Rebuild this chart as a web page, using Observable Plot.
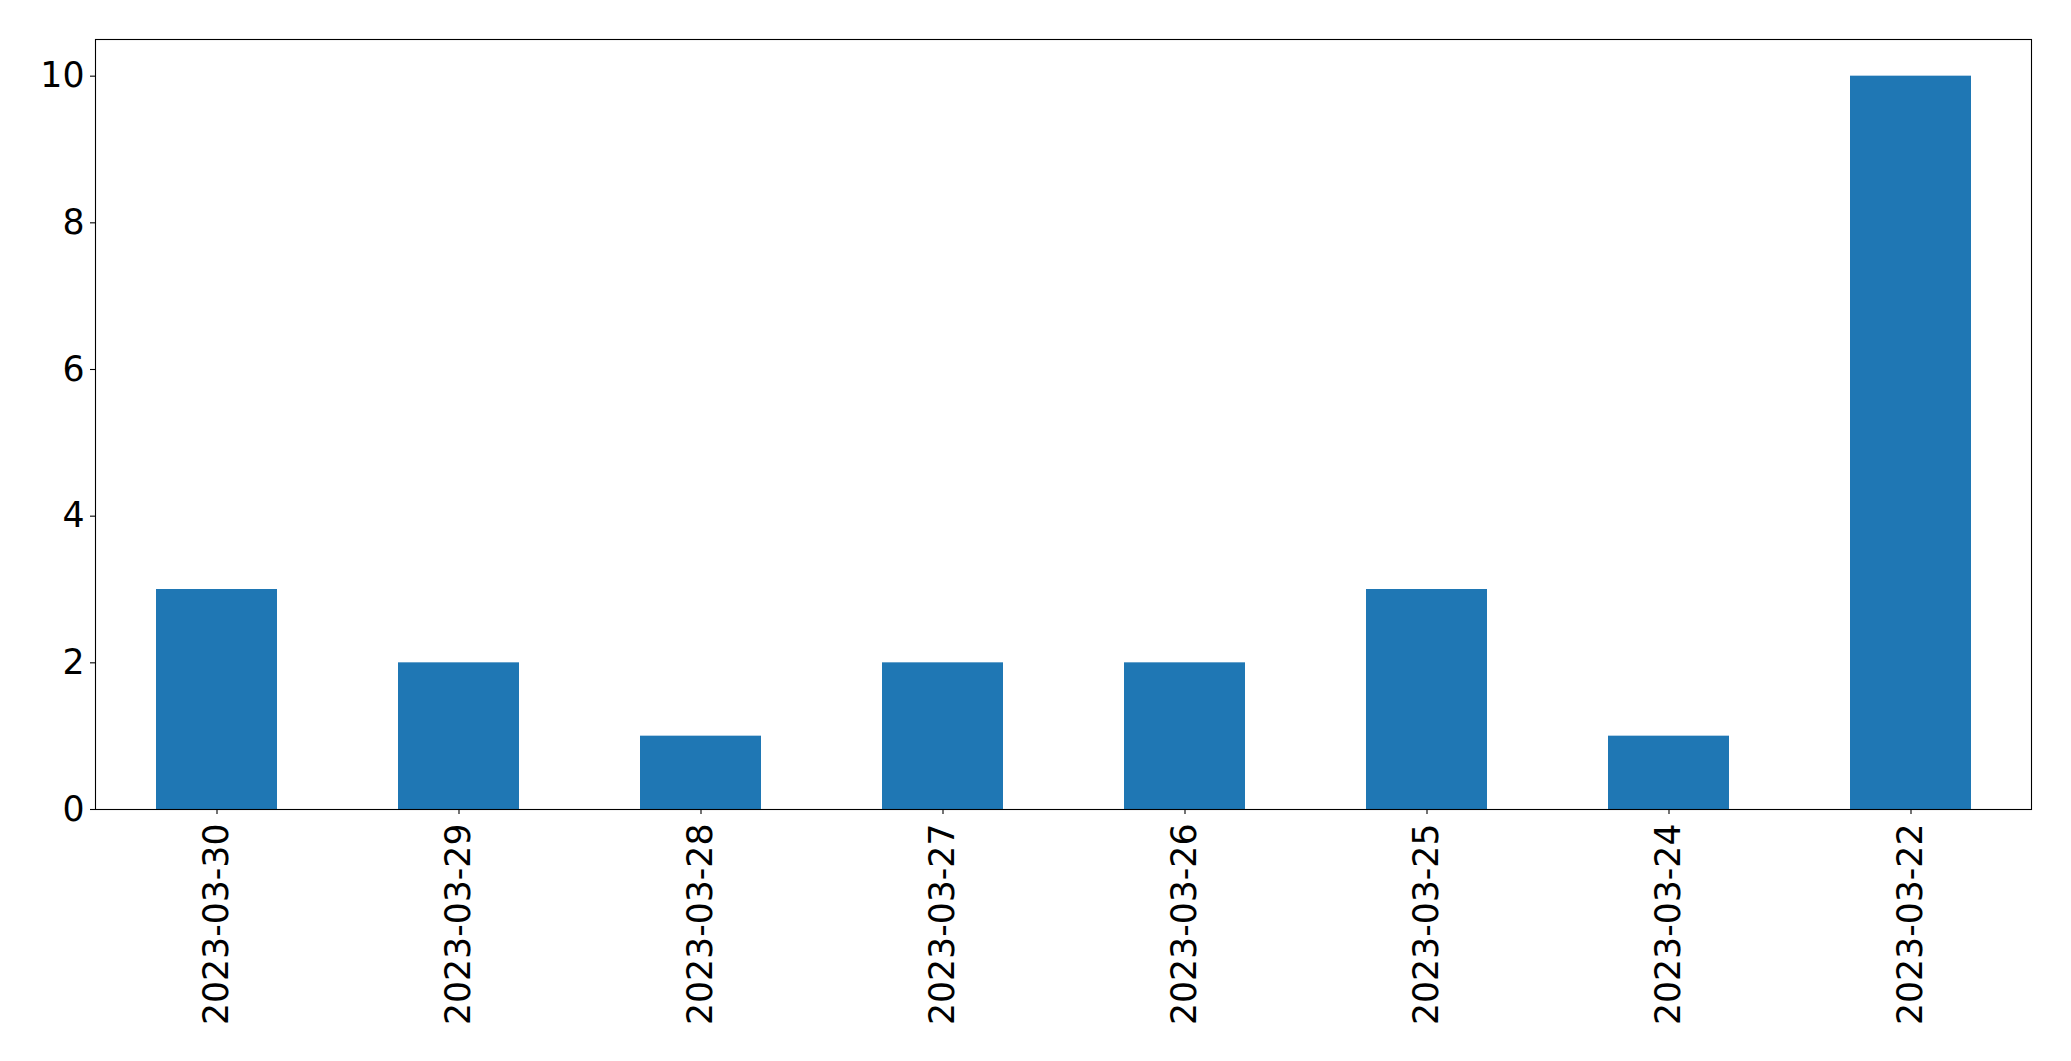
<!DOCTYPE html>
<html>
<head>
<meta charset="utf-8">
<script src="https://cdn.jsdelivr.net/npm/d3@7"></script>
<script src="https://cdn.jsdelivr.net/npm/@observablehq/plot@0.6"></script>
<style>
  html, body { margin: 0; padding: 0; background: #fff; }
</style>
</head>
<body>
<div id="chart"></div>
<script>
const dates = ["2023-03-30", "2023-03-29", "2023-03-28", "2023-03-27", "2023-03-26", "2023-03-25", "2023-03-24", "2023-03-22"];
const counts = [3, 2, 1, 2, 2, 3, 1, 10];
const yTicks = [0, 2, 4, 6, 8, 10];

const data = dates.map((d, i) => ({date: d, count: counts[i]}));

const chart = Plot.plot({
  width: 2071,
  height: 1061,
  marginLeft: 95,
  marginRight: 40,
  marginTop: 39,
  marginBottom: 252,
  style: {fontFamily: "DejaVu Sans", fontSize: "34.7px", color: "#000", background: "#fff"},
  x: {domain: dates, paddingInner: 0.5, paddingOuter: 0.25, label: null},
  y: {domain: [0, 10.5], label: null},
  marks: [
    Plot.barY(data, {x: "date", y: "count", fill: "#1f77b4"}),
    Plot.frame({stroke: "#000", strokeWidth: 1.1}),
    Plot.axisY({ticks: yTicks, tickSize: 5, tickPadding: 6, tickFormat: d3.format("d"), fontSize: 34.7, stroke: "#000", strokeWidth: 1.1, label: null}),
    Plot.axisX({tickSize: 5, tickPadding: 9, tickRotate: -90, fontSize: 34.7, stroke: "#000", strokeWidth: 1.1, label: null})
  ]
});
document.getElementById("chart").appendChild(chart);
</script>
</body>
</html>
